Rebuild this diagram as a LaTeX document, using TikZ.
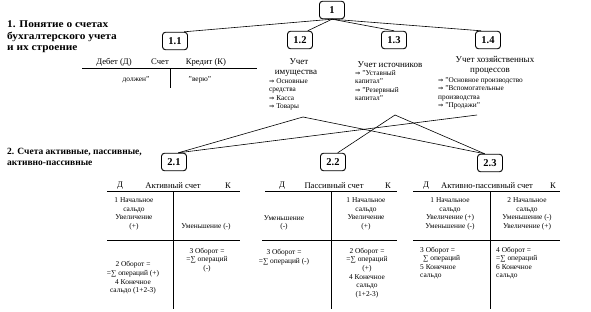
\documentclass[tikz,border=0pt]{standalone}
\usepackage{fontspec}
\setmainfont{Liberation Serif}
\newfontfamily\symf{DejaVu Sans}
\newfontfamily\headfont[FakeStretch=1.1]{Liberation Serif}
\usetikzlibrary{calc}
\newcommand{\itar}{{\symf\fontsize{6.3}{6}\selectfont ⇒}\ }
\tikzset{
  numbox/.style={draw, rounded corners=3pt, line width=0.9pt, minimum width=25pt, minimum height=17.5pt, inner sep=0pt, font=\bfseries\fontsize{10.5}{11}\selectfont},
  headtxt/.style={align=left, anchor=north west, inner sep=0pt},
  titletxt/.style={inner sep=0pt, align=center, font=\fontsize{9}{11}\selectfont},
  itemtxt/.style={inner sep=0pt, align=left, anchor=north west, font=\fontsize{7.3}{8.6}\selectfont},
  ttxt/.style={inner sep=0pt, align=center, font=\fontsize{7.4}{8.6}\selectfont},
  thead/.style={inner sep=0pt, font=\fontsize{8.6}{9}\selectfont},
  conn/.style={line width=0.6pt},
  tline/.style={line width=1pt}
}
\begin{document}
\begin{tikzpicture}[x=1pt,y=-1pt]
\useasboundingbox[fill=white] (0,0) rectangle (591,312);

% numbered boxes
\node[numbox] (n1) at (332,10) {1};
\node[numbox] (b11) at (175,41) {1.1};
\node[numbox] (b12) at (300,40) {1.2};
\node[numbox] (b13) at (394,40) {1.3};
\node[numbox] (b14) at (488,40) {1.4};
\node[numbox] (b21) at (174,162) {2.1};
\node[numbox] (b22) at (333,162) {2.2};
\node[numbox] (b23) at (490,163) {2.3};

% headings
\node[headtxt, font=\headfont\bfseries\fontsize{10.3}{11.5}\selectfont] (h1) at (7,21) {1. Понятие о счетах\\бухгалтерского учета\\и их строение};
\node[headtxt, font=\bfseries\fontsize{9.5}{11}\selectfont] (h2) at (7,148) {2. Счета активные, пассивные,\\активно-пассивные};

% top connectors
\draw[conn] (n1.south) -- (b11.45);
\draw[conn] (n1.south) -- (b12.50);
\draw[conn] (n1.south) -- (b13.north);
\draw[conn] (n1.south) -- (b14.127);

% 1.1 account
\node[thead] (deb) at (114,62) {Дебет (Д)};
\node[thead] (sch) at (160,62) {Счет};
\node[thead] (kred) at (206,62) {Кредит (К)};
\draw[tline] (82,69) -- (257,69);
\draw[tline] (170,69) -- (170,88);
\node[ttxt] (dolg) at (136,80) {должен"};
\node[ttxt] (veru) at (200,80) {"верю"};

% 1.2
\node[titletxt] (t12a) at (299,62) {Учет};
\node[titletxt] (t12b) at (296,73) {имущества};
\node[itemtxt] (i12) at (269,78) {\itar Основные\\средства\\\itar Касса\\\itar Товары};
% 1.3
\node[titletxt] (t13) at (390,65) {Учет источников};
\node[itemtxt] (i13) at (355,70) {\itar "Уставный\\капитал"\\\itar "Резервный\\капитал"};
% 1.4
\node[titletxt] (t14a) at (495,59) {Учет хозяйственных};
\node[titletxt] (t14b) at (490,71) {процессов};
\node[itemtxt] (i14) at (438,77) {\itar "Основное производство\\\itar "Вспомогательные\\производства\\\itar "Продажи"};

% crossing connectors
\coordinate (pa) at (303,117);
\coordinate (pb) at (395,115);
\coordinate (pc) at (477,115);
\draw[conn] (pa) -- (b21.65);
\draw[conn] (pc) -- (b21.65);
\draw[conn] (pa) -- (b23.120);
\draw[conn] (pb) -- (b23.120);
\draw[conn] (pb) -- (b22.63);

% active account
\node[thead] (ad) at (120,186) {Д};
\node[thead] (at) at (173,186) {Активный счет};
\node[thead] (ak) at (228,186) {К};
\draw[tline] (107,192) -- (240,192);
\draw[tline] (173,192) -- (173,309);
\draw[tline] (107,241) -- (240,241);
\node[ttxt] (a1) at (134,214) {1 Начальное\\сальдо\\Увеличение\\(+)};
\node[ttxt] (a2) at (206,227) {Уменьшение (-)};
\node[ttxt] (a3) at (133,278) {2 Оборот =\\=∑ операций (+)\\4 Конечное\\сальдо (1+2-3)};
\node[ttxt] (a4) at (207,260) {3 Оборот =\\=∑ операций\\(-)};

% passive account
\node[thead] (pd) at (282,186) {Д};
\node[thead] (pt) at (334,186) {Пассивный счет};
\node[thead] (pk) at (388,186) {К};
\draw[tline] (265,192) -- (397,192);
\draw[tline] (331,192) -- (331,309);
\draw[tline] (262,241) -- (397,241);
\node[ttxt] (p1) at (284,223) {Уменьшение\\(-)};
\node[ttxt] (p2) at (366,214) {1 Начальное\\сальдо\\Увеличение\\(+)};
\node[ttxt] (p3) at (284,257) {3 Оборот =\\=∑ операций (-)};
\node[ttxt] (p4) at (367,273) {2 Оборот =\\=∑ операций\\(+)\\4 Конечное\\сальдо\\(1+2-3)};

% active-passive account
\node[thead] (qd) at (426,186) {Д};
\node[thead] (qt) at (487,186) {Активно-пассивный счет};
\node[thead] (qk) at (553,186) {К};
\draw[tline] (413,192) -- (560,192);
\draw[tline] (490,192) -- (490,309);
\draw[tline] (413,241) -- (560,241);
\node[ttxt] (q1) at (450,214) {1 Начальное\\сальдо\\Увеличение (+)\\Уменьшение (-)};
\node[ttxt] (q2) at (527,214) {2 Начальное\\сальдо\\Уменьшение (-)\\Увеличение (+)};
\node[ttxt, align=left, anchor=west] (q3) at (420,263) {3 Оборот =\\\hspace{3pt}∑ операций\\5 Конечное\\сальдо};
\node[ttxt, align=left, anchor=west] (q4) at (496,263) {4 Оборот =\\=∑ операций\\6 Конечное\\сальдо};
\end{tikzpicture}
\end{document}
